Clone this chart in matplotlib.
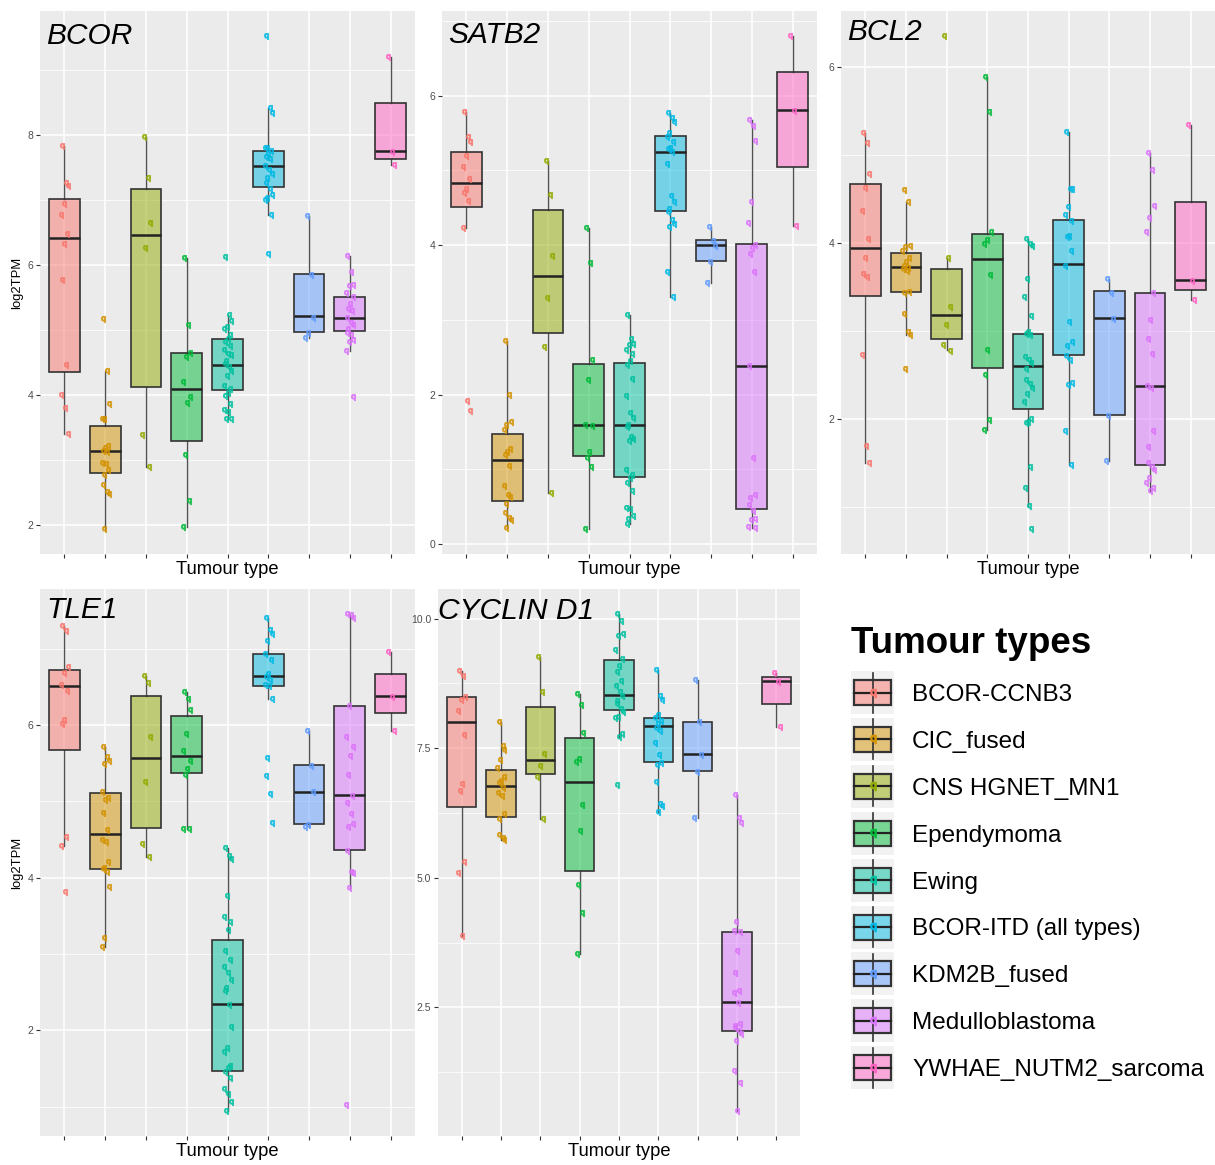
import matplotlib
matplotlib.use("Agg")
import matplotlib.pyplot as plt
from matplotlib import font_manager
from matplotlib.patches import Rectangle
from matplotlib.ticker import FormatStrFormatter, MultipleLocator


#   Settings
CATEGORIES = ["BCOR-CCNB3", "CIC_fused", "CNS HGNET_MN1", "Ependymoma", "Ewing",
              "BCOR-ITD (all types)", "KDM2B_fused", "Medulloblastoma",
              "YWHAE_NUTM2_sarcoma"]
COLOURS = ["#F8766D", "#D39200", "#93AA00", "#00BA38", "#00C19F",
           "#00B9E3", "#619CFF", "#DB72FB", "#FF61C3"]

X_AXIS_LABEL = "Tumour type"
Y_AXIS_LABEL = "log2TPM"
LEGEND_TITLE = "Tumour types"

#   BCOR
BCOR_POINTS = [
    [7.82, 7.26, 7.21, 6.93, 6.76, 6.47, 6.32, 5.77, 4.46, 4.01, 3.80, 3.41],
    [5.17, 4.37, 3.86, 3.63, 3.63, 3.22, 3.19, 3.14, 3.12, 2.96, 2.95, 2.85, 2.77, 2.62, 2.51, 2.48, 1.94],
    [7.96, 7.33, 6.65, 6.26, 3.39, 2.90],
    [6.10, 5.08, 4.65, 4.58, 4.20, 3.97, 3.88, 3.08, 2.37, 1.98],
    [6.12, 5.23, 5.14, 5.04, 5.01, 4.92, 4.87, 4.82, 4.75, 4.69, 4.63, 4.61, 4.52, 4.48, 4.43, 4.37,
     4.29, 4.14, 4.09, 4.04, 3.98, 3.86, 3.77, 3.74, 3.64, 3.63],
    [9.52, 8.41, 8.34, 7.80, 7.79, 7.75, 7.71, 7.66, 7.63, 7.52, 7.46, 7.40, 7.33, 7.26, 7.17, 7.08,
     7.03, 7.00, 6.77, 6.17],
    [6.75, 5.84, 5.19, 4.96, 4.88],
    [6.13, 5.89, 5.69, 5.67, 5.57, 5.50, 5.40, 5.33, 5.30, 5.19, 5.11, 5.07, 5.02, 4.96, 4.92, 4.84,
     4.82, 4.68, 3.97],
    [9.20, 7.73, 7.54],
]
BCOR_Q1 = [4.36, 2.80, 4.13, 3.30, 4.08, 7.19, 4.97, 4.98, 7.63]
BCOR_MED = [6.41, 3.15, 6.46, 4.10, 4.47, 7.52, 5.21, 5.19, 7.75]
BCOR_Q3 = [7.01, 3.53, 7.16, 4.65, 4.86, 7.75, 5.86, 5.50, 8.48]
BCOR_LO = [3.41, 1.94, 2.90, 1.98, 3.63, 6.77, 4.88, 4.68, 7.54]
BCOR_HI = [7.82, 4.37, 7.96, 6.10, 5.23, 8.41, 6.75, 6.13, 9.20]

#   SATB2
SATB2_POINTS = [
    [5.78, 5.44, 5.38, 5.19, 5.05, 4.89, 4.75, 4.69, 4.59, 4.23, 1.91, 1.78],
    [2.72, 1.99, 1.63, 1.60, 1.53, 1.28, 1.24, 1.19, 1.04, 0.78, 0.66, 0.63, 0.54, 0.42, 0.35, 0.33, 0.22],
    [5.12, 4.67, 3.86, 3.29, 2.64, 0.68],
    [4.23, 3.76, 2.47, 2.20, 1.60, 1.58, 1.24, 1.16, 1.03, 0.20],
    [3.06, 2.75, 2.68, 2.67, 2.60, 2.55, 2.45, 2.40, 2.21, 1.98, 1.76, 1.69, 1.60, 1.57, 1.44, 1.41,
     1.38, 0.99, 0.92, 0.89, 0.82, 0.71, 0.49, 0.47, 0.38, 0.34, 0.27],
    [5.77, 5.70, 5.65, 5.50, 5.44, 5.38, 5.30, 5.28, 5.24, 5.08, 4.65, 4.58, 4.48, 4.44, 4.33, 4.28,
     4.24, 3.64, 3.31],
    [4.24, 4.05, 3.99, 3.78, 3.49],
    [5.67, 5.59, 5.39, 4.57, 4.30, 4.00, 3.96, 3.88, 3.64, 2.38, 1.16, 0.66, 0.62, 0.53, 0.44, 0.34,
     0.33, 0.23, 0.22],
    [6.80, 5.79, 4.25],
]
SATB2_Q1 = [4.51, 0.58, 2.82, 1.18, 0.90, 4.45, 3.79, 0.47, 5.04]
SATB2_MED = [4.83, 1.13, 3.59, 1.60, 1.60, 5.25, 4.00, 2.39, 5.81]
SATB2_Q3 = [5.24, 1.47, 4.47, 2.41, 2.42, 5.46, 4.07, 4.01, 6.31]
SATB2_LO = [4.23, 0.22, 0.68, 0.20, 0.27, 3.31, 3.49, 0.22, 4.25]
SATB2_HI = [5.78, 2.72, 5.12, 4.23, 3.06, 5.77, 4.24, 5.67, 6.80]

#   BCL2
BCL2_POINTS = [
    [5.25, 5.13, 4.78, 4.62, 4.36, 4.04, 3.83, 3.65, 3.61, 2.73, 1.70, 1.50],
    [4.60, 4.46, 3.96, 3.95, 3.91, 3.83, 3.78, 3.74, 3.72, 3.70, 3.68, 3.44, 3.43, 3.19, 2.99, 2.95, 2.57],
    [6.35, 3.83, 3.27, 3.07, 2.84, 2.77],
    [5.88, 5.48, 4.12, 4.03, 3.99, 3.63, 2.78, 2.50, 1.99, 1.88],
    [4.04, 3.99, 3.96, 3.59, 3.39, 3.17, 2.99, 2.97, 2.95, 2.70, 2.67, 2.64, 2.57, 2.44, 2.40, 2.35,
     2.28, 2.20, 2.00, 1.97, 1.96, 1.46, 1.22, 1.01, 0.75],
    [5.26, 4.61, 4.61, 4.41, 4.32, 4.25, 4.08, 4.07, 3.91, 3.74, 3.10, 2.87, 2.83, 2.72, 2.67, 2.41,
     2.39, 1.86, 1.48],
    [3.59, 3.43, 3.14, 2.03, 1.52],
    [5.02, 4.83, 4.42, 4.28, 4.12, 3.43, 3.12, 2.91, 2.74, 2.38, 2.35, 1.86, 1.68, 1.50, 1.46, 1.42,
     1.33, 1.27, 1.22, 1.18],
    [5.34, 3.57, 3.35],
]
BCL2_Q1 = [3.40, 3.44, 2.91, 2.58, 2.11, 2.73, 2.05, 1.48, 3.47]
BCL2_MED = [3.94, 3.73, 3.18, 3.82, 2.60, 3.76, 3.15, 2.38, 3.58]
BCL2_Q3 = [4.67, 3.88, 3.70, 4.10, 2.97, 4.26, 3.45, 3.43, 4.46]
BCL2_LO = [1.50, 2.95, 2.78, 1.88, 1.01, 1.48, 1.52, 1.18, 3.35]
BCL2_HI = [5.25, 4.46, 3.83, 5.88, 4.04, 5.26, 3.59, 5.02, 5.34]

#   TLE1
TLE1_POINTS = [
    [7.30, 7.24, 6.76, 6.68, 6.53, 6.45, 6.07, 6.02, 4.54, 4.42, 3.81],
    [5.71, 5.58, 5.53, 5.49, 5.13, 5.05, 5.02, 4.85, 4.62, 4.50, 4.47, 4.21, 4.13, 4.11, 4.08, 3.88,
     3.21, 3.09],
    [6.65, 6.55, 5.84, 5.26, 4.44, 4.27],
    [6.43, 6.35, 6.20, 5.89, 5.66, 5.53, 5.43, 5.35, 4.64, 4.64],
    [4.39, 4.28, 4.25, 3.76, 3.48, 3.42, 3.32, 3.04, 2.92, 2.83, 2.75, 2.66, 2.56, 2.51, 2.33, 2.04,
     1.77, 1.71, 1.53, 1.50, 1.45, 1.38, 1.23, 1.17, 1.06, 0.94],
    [7.40, 7.25, 7.19, 7.11, 6.93, 6.85, 6.67, 6.63, 6.59, 6.53, 6.51, 6.35, 5.57, 5.33, 5.10, 4.72],
    [5.93, 5.47, 5.12, 4.69, 4.66],
    [7.46, 7.45, 7.40, 6.25, 5.84, 5.71, 5.60, 5.35, 5.07, 4.98, 4.84, 4.70, 4.66, 4.35, 4.07, 4.06,
     3.87, 1.02],
    [6.96, 6.37, 5.93],
]
TLE1_Q1 = [5.67, 4.12, 4.65, 5.37, 1.47, 6.52, 4.70, 4.37, 6.16]
TLE1_MED = [6.51, 4.57, 5.57, 5.60, 2.34, 6.64, 5.13, 5.08, 6.38]
TLE1_Q3 = [6.72, 5.11, 6.38, 6.12, 3.18, 6.93, 5.48, 6.25, 6.67]
TLE1_LO = [4.42, 3.09, 4.27, 4.64, 0.94, 6.35, 4.66, 3.87, 5.93]
TLE1_HI = [7.30, 5.71, 6.65, 6.43, 4.39, 7.40, 5.93, 7.46, 6.96]

#   CYCLIN D1
CCND1_POINTS = [
    [8.99, 8.90, 8.48, 8.42, 8.22, 7.75, 6.81, 6.68, 5.31, 5.09, 3.88],
    [8.01, 7.55, 7.46, 7.28, 7.11, 6.94, 6.86, 6.83, 6.73, 6.63, 6.57, 6.23, 6.14, 5.83, 5.77, 5.72],
    [9.26, 8.58, 7.38, 7.15, 6.95, 6.14],
    [8.55, 8.34, 7.80, 7.29, 7.24, 6.41, 5.90, 4.86, 4.33, 3.54],
    [10.09, 9.95, 9.70, 9.66, 9.39, 9.21, 9.08, 8.97, 8.79, 8.70, 8.58, 8.50, 8.40, 8.36, 8.25, 8.20,
     8.11, 8.09, 7.78, 7.71, 6.78],
    [9.00, 8.50, 8.43, 8.14, 8.09, 8.03, 7.96, 7.89, 7.84, 7.60, 7.36, 7.22, 7.17, 6.84, 6.42, 6.39, 6.26],
    [8.81, 8.00, 7.36, 7.04, 6.16],
    [6.59, 6.16, 6.06, 4.15, 3.97, 3.95, 3.59, 3.17, 2.82, 2.77, 2.58, 2.18, 2.15, 2.11, 2.04, 1.99,
     1.86, 1.28, 1.04, 0.50],
    [8.95, 8.78, 7.90],
]
CCND1_Q1 = [6.36, 6.17, 7.01, 5.14, 8.24, 7.23, 7.06, 2.04, 8.35]
CCND1_MED = [8.00, 6.77, 7.28, 6.84, 8.53, 7.93, 7.38, 2.60, 8.79]
CCND1_Q3 = [8.48, 7.07, 8.29, 7.69, 9.20, 8.08, 8.01, 3.95, 8.88]
CCND1_LO = [3.88, 5.72, 6.14, 3.54, 7.71, 6.26, 6.16, 0.50, 7.90]
CCND1_HI = [8.99, 8.01, 9.26, 8.55, 10.09, 9.00, 8.81, 6.59, 8.95]

# horizontal spread of the jittered points (style only)
JITTER = [-0.06, 0.04, 0.09, -0.02, -0.09, 0.07, 0.0, -0.05, 0.05, -0.08, 0.02, 0.08, -0.04]

PANEL_BG = "#EBEBEB"
DARK = "#333333"
FIG_W, FIG_H = 1215, 1165


def pick_font(names):
    for name in names:
        try:
            font_manager.findfont(name, fallback_to_default=False)
            return name
        except ValueError:
            continue
    return "DejaVu Sans"


plt.rcParams['font.family'] = [pick_font(["Liberation Sans", "Arial"]), 'DejaVu Sans']
NARROW = pick_font(["Liberation Sans Narrow", "Liberation Sans"])
XLAB_SIZE = 16 if NARROW == "Liberation Sans Narrow" else 13.2


def px_box(x0, y0, x1, y1):
    # pixel box (top-left origin) -> figure fraction rect
    return [x0 / FIG_W, 1 - y1 / FIG_H, (x1 - x0) / FIG_W, (y1 - y0) / FIG_H]


def draw_panel(ax, title, points, q1, med, q3, lo, hi, step, fmt, ylabel, title_y):
    ax.set_facecolor(PANEL_BG)
    for s in ax.spines.values():
        s.set_visible(False)

    stats = []
    for i in range(len(CATEGORIES)):
        stats.append({'q1': q1[i], 'med': med[i], 'q3': q3[i],
                      'whislo': lo[i], 'whishi': hi[i], 'fliers': []})
    bp = ax.bxp(stats, positions=range(1, len(CATEGORIES) + 1), widths=0.75,
                patch_artist=True, showfliers=False, showcaps=False,
                boxprops=dict(edgecolor=DARK, linewidth=1.2),
                whiskerprops=dict(color=DARK, linewidth=1.0, alpha=0.85),
                medianprops=dict(color="#222222", linewidth=1.8),
                zorder=2)
    for patch, col in zip(bp['boxes'], COLOURS):
        patch.set_facecolor(col)
        patch.set_alpha(None)
        patch.set_facecolor(matplotlib.colors.to_rgba(col, 0.5))

    for i, vals in enumerate(points):
        xs = [i + 1 + JITTER[j % len(JITTER)] for j in range(len(vals))]
        ax.plot(xs, vals, linestyle="none", marker=r"$\mathrm{q}$", markersize=4.2,
                color=COLOURS[i], alpha=0.75, zorder=3)

    ax.set_xlim(0.4, len(CATEGORIES) + 0.6)
    ax.margins(y=0.05)
    ax.autoscale_view()
    ax.set_xticks(range(1, len(CATEGORIES) + 1))
    ax.set_xticklabels([])
    ax.yaxis.set_major_locator(MultipleLocator(step))
    ax.yaxis.set_minor_locator(MultipleLocator(step / 2))
    ax.yaxis.set_major_formatter(FormatStrFormatter(fmt))
    ax.grid(which='major', color='white', linewidth=1.1)
    ax.grid(which='minor', axis='y', color='white', linewidth=0.55)
    ax.set_axisbelow(True)
    ax.tick_params(axis='both', which='major', length=3, width=0.8, color=DARK,
                   labelsize=7.5, labelcolor="#4D4D4D", pad=2)
    ax.tick_params(axis='y', which='minor', length=0)

    ax.set_xlabel(X_AXIS_LABEL, fontsize=XLAB_SIZE, family=[NARROW, 'DejaVu Sans'])
    ax.xaxis.set_label_coords(0.5, -0.013)
    ax.xaxis.label.set_verticalalignment('top')
    if ylabel:
        ax.set_ylabel(Y_AXIS_LABEL, fontsize=9.4)
        ax.yaxis.set_label_coords(-0.045, 0.5)

    ax.text(0.016, title_y, title, transform=ax.transAxes, fontsize=21.5,
            style='italic', va='baseline', ha='left', zorder=5)


fig = plt.figure(figsize=(FIG_W / 100, FIG_H / 100), dpi=100)

ax1 = fig.add_axes(px_box(40, 11, 415, 554))
draw_panel(ax1, "BCOR", BCOR_POINTS, BCOR_Q1, BCOR_MED, BCOR_Q3, BCOR_LO, BCOR_HI,
           2, '%d', True, 0.939)
ax2 = fig.add_axes(px_box(442, 11, 817, 554))
draw_panel(ax2, "SATB2", SATB2_POINTS, SATB2_Q1, SATB2_MED, SATB2_Q3, SATB2_LO, SATB2_HI,
           2, '%d', False, 0.941)
ax3 = fig.add_axes(px_box(841, 11, 1215, 554))
draw_panel(ax3, "BCL2", BCL2_POINTS, BCL2_Q1, BCL2_MED, BCL2_Q3, BCL2_LO, BCL2_HI,
           2, '%d', False, 0.947)
ax4 = fig.add_axes(px_box(40, 589, 415, 1136))
draw_panel(ax4, "TLE1", TLE1_POINTS, TLE1_Q1, TLE1_MED, TLE1_Q3, TLE1_LO, TLE1_HI,
           2, '%d', True, 0.947)
ax5 = fig.add_axes(px_box(438, 589, 800, 1136))
draw_panel(ax5, "CYCLIN D1", CCND1_POINTS, CCND1_Q1, CCND1_MED, CCND1_Q3, CCND1_LO, CCND1_HI,
           2.5, '%.1f', False, 0.945)
ax5.texts[0].set_x(0.0)

#   Legend, drawn in pixel space
lax = fig.add_axes([0, 0, 1, 1])
lax.set_xlim(0, FIG_W)
lax.set_ylim(FIG_H, 0)
lax.axis('off')
lax.text(851, 653, LEGEND_TITLE, fontsize=26.5, fontweight='bold', va='baseline', ha='left')

key_x, key_y0, key_step, key_size = 872.5, 692.5, 46.9, 43
for i, (label, col) in enumerate(zip(CATEGORIES, COLOURS)):
    cy = key_y0 + i * key_step
    lax.add_patch(Rectangle((key_x - key_size / 2, cy - key_size / 2), key_size, key_size,
                            facecolor="#F2F2F2", edgecolor='none'))
    lax.plot([key_x, key_x], [cy - 20, cy + 20], color=DARK, linewidth=1.2)
    lax.add_patch(Rectangle((key_x - 18.5, cy - 12.5), 37, 25,
                            facecolor=matplotlib.colors.to_rgba(col, 0.5),
                            edgecolor=DARK, linewidth=1.6))
    lax.plot([key_x - 18.5, key_x + 18.5], [cy, cy], color="#222222", linewidth=1.6)
    lax.plot([key_x], [cy], linestyle="none", marker=r"$\mathrm{q}$", markersize=6,
             color=col)
    lax.text(912, cy + 8.5, label, fontsize=17.5, va='baseline', ha='left')

fig.savefig("out.png", dpi=100, facecolor='white')
plt.close(fig)
